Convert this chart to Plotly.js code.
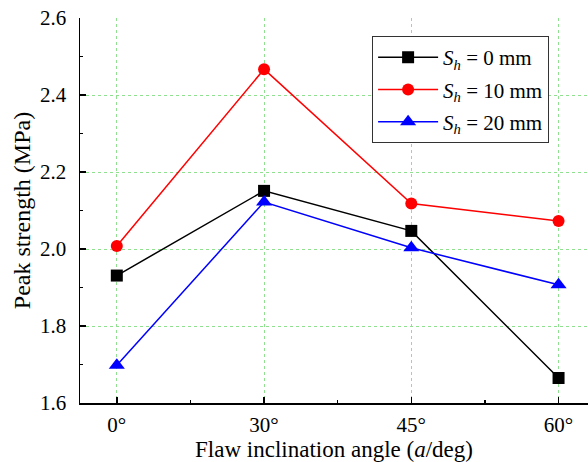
<!DOCTYPE html>
<html><head><meta charset="utf-8">
<script src="https://cdn.plot.ly/plotly-3.0.1.min.js"></script>
<style>html,body{margin:0;padding:0;background:#fff}#chart{width:588px;height:462px}</style>
</head><body><div id="chart"></div>
<script>
const categories = ["0°", "30°", "45°", "60°"];
const seriesNames = ["<i>S<sub>h</sub></i> = 0 mm", "<i>S<sub>h</sub></i> = 10 mm", "<i>S<sub>h</sub></i> = 20 mm"];
const sh0 = [1.931, 2.151, 2.047, 1.665];
const sh10 = [2.008, 2.467, 2.118, 2.073];
const sh20 = [1.698, 2.122, 2.003, 1.907];
const colors = ["#000000", "#ff0000", "#0000ff"];
const symbols = ["square", "circle", "triangle-up"];
const xIdx = categories.map((c, i) => i);

const data = [sh0, sh10, sh20].map((vals, k) => ({
  x: xIdx, y: vals, type: "scatter", mode: "lines+markers", name: seriesNames[k],
  legendgroup: "g" + k,
  line: {color: colors[k], width: 1.5},
  marker: {color: colors[k], symbol: symbols[k], size: k === 2 ? 14 : 12}
}));

const font = {family: "Liberation Serif, Times New Roman, serif", color: "#000"};
const layout = {
  width: 588, height: 462,
  margin: {l: 80, r: 0, t: 18, b: 59},
  paper_bgcolor: "#fff", plot_bgcolor: "#fff",
  font: Object.assign({size: 21}, font),
  showlegend: true,
  legend: {x: 0.575, y: 0.953, xanchor: "left", yanchor: "top",
    bordercolor: "#333", borderwidth: 1, bgcolor: "#fff",
    font: Object.assign({size: 21}, font), tracegroupgap: 2, itemwidth: 60},
  xaxis: {
    range: [-0.25, 3.2], tickvals: xIdx, ticktext: categories,
    showline: true, linecolor: "#000", linewidth: 1.5, mirror: false,
    ticks: "inside", ticklen: 6, tickcolor: "#000", tickwidth: 1.5,
    showgrid: true, gridcolor: "#8fe08f", griddash: "3px,3px", gridwidth: 1,
    zeroline: false,
    minor: {dtick: 0.5, tick0: 0, ticks: "inside", ticklen: 3, tickcolor: "#000", tickwidth: 1.5, showgrid: false},
    tickfont: Object.assign({size: 21}, font),
    ticklabelstandoff: 2,
    title: {text: "Flaw inclination angle (<i>a</i>/deg)", font: Object.assign({size: 23}, font), standoff: 0}
  },
  yaxis: {
    range: [1.6, 2.6], dtick: 0.2, tick0: 1.6, tickformat: ".1f",
    showline: true, linecolor: "#000", linewidth: 1.5,
    ticks: "inside", ticklen: 6, tickcolor: "#000", tickwidth: 1.5,
    showgrid: true, gridcolor: "#8fe08f", griddash: "3px,3px", gridwidth: 1,
    zeroline: false,
    minor: {dtick: 0.1, tick0: 1.6, ticks: "inside", ticklen: 3, tickcolor: "#000", tickwidth: 1.5, showgrid: false},
    tickfont: Object.assign({size: 21}, font),
    ticklabelstandoff: 8,
    title: {text: "Peak strength (MPa)", font: Object.assign({size: 24}, font), standoff: 2}
  }
};
Plotly.newPlot("chart", data, layout, {displayModeBar: false, staticPlot: true});
</script></body></html>
